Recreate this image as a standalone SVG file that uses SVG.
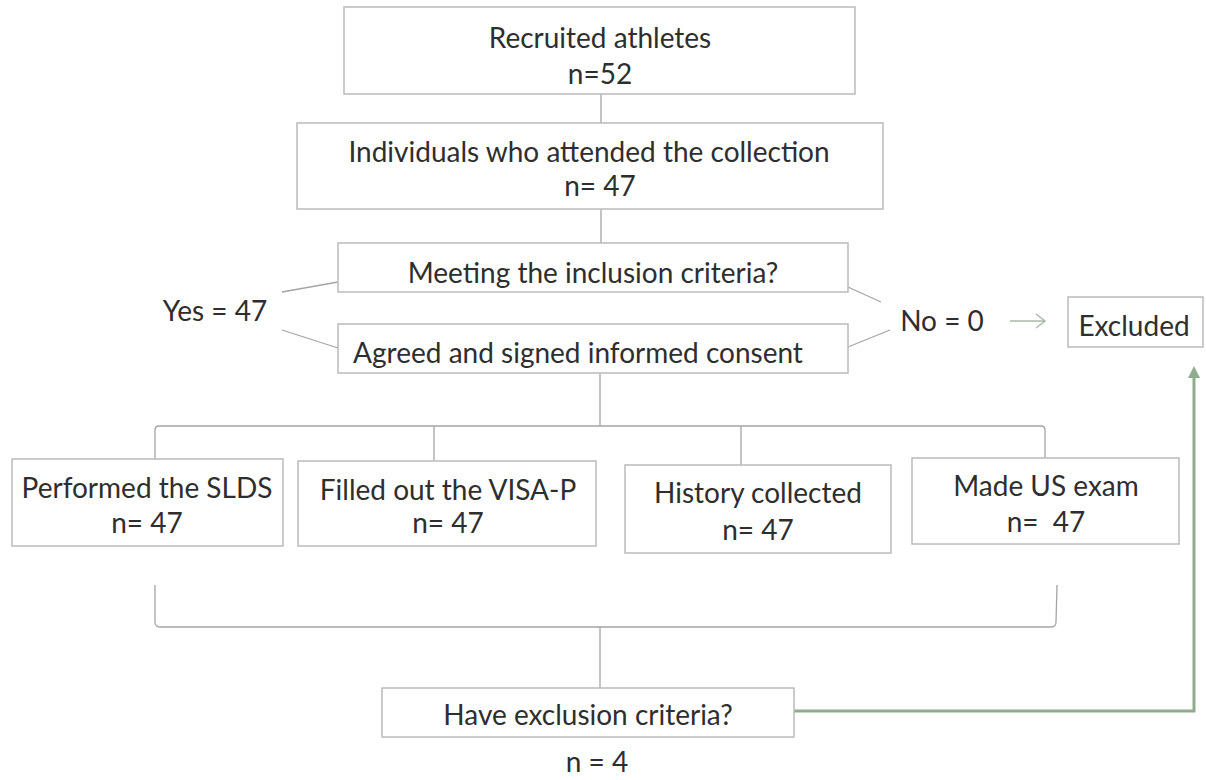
<svg xmlns="http://www.w3.org/2000/svg" width="1206" height="780" viewBox="0 0 1206 780">
<defs>
<style>
.box{fill:#ffffff;stroke:#b9bcb9;stroke-width:1.5}
.t{font-family:Lato,"Liberation Sans",sans-serif;font-size:28px;fill:#2e2e2e;text-anchor:middle}
.c{fill:none;stroke:#a3a6a3;stroke-width:1.3}
.g{fill:none;stroke:#8fac8f;stroke-width:3}
.ga{fill:none;stroke:#a9b9a9;stroke-width:1.5}
</style>
<marker id="ah" markerWidth="12" markerHeight="12" refX="6" refY="6" orient="auto" markerUnits="userSpaceOnUse">
<path d="M0,0 L12,6 L0,12 z" fill="#8fac8f"/>
</marker>
</defs>
<rect width="1206" height="780" fill="#ffffff"/>
<g id="connectors">
<line class="c" x1="601" y1="94" x2="601" y2="123"/>
<line class="c" x1="601" y1="209" x2="601" y2="243"/>
<line class="c" x1="282" y1="292" x2="338" y2="282"/>
<line class="c" x1="282" y1="330" x2="338" y2="348"/>
<line class="c" x1="848" y1="287" x2="881" y2="302"/>
<line class="c" x1="848" y1="347" x2="890" y2="330"/>
<path class="ga" d="M1010,321 L1045,321 M1036,314 L1045,321 L1036,328"/>
<line class="c" x1="600" y1="373" x2="600" y2="426"/>
<path class="c" d="M155,459 L155,430 Q155,426 159,426 L1041,426 Q1045,426 1045,430 L1045,458"/>
<line class="c" x1="434" y1="426" x2="434" y2="461"/>
<line class="c" x1="741" y1="426" x2="741" y2="465"/>
<path class="c" d="M155,585 L155,622 Q155,627 160,627 L1051,627 Q1056,627 1056,622 L1057,585"/>
<line class="c" x1="600" y1="627" x2="600" y2="688"/>
<path class="g" d="M794,711 L1194,711 L1194,372" marker-end="url(#ah)"/>
</g>
<g id="n-recruited">
<rect class="box" x="344" y="7" width="511" height="87"/>
<text class="t" x="600" y="48">Recruited athletes</text>
<text class="t" x="600" y="84">n=52</text>
</g>
<g id="n-attended">
<rect class="box" x="297" y="123" width="586" height="86"/>
<text class="t" x="589" y="162">Individuals who attended the collection</text>
<text class="t" x="600" y="196">n= 47</text>
</g>
<g id="n-inclusion">
<rect class="box" x="338" y="243" width="510" height="49"/>
<text class="t" x="593" y="283">Meeting the inclusion criteria?</text>
</g>
<g id="n-consent">
<rect class="box" x="338" y="324" width="510" height="49"/>
<text class="t" x="578" y="363">Agreed and signed informed consent</text>
</g>
<g id="n-yes">
<text class="t" x="215" y="321">Yes = 47</text>
</g>
<g id="n-no">
<text class="t" x="942" y="331">No = 0</text>
</g>
<g id="n-excluded">
<rect class="box" x="1068" y="297" width="135" height="50"/>
<text class="t" x="1134" y="336">Excluded</text>
</g>
<g id="n-slds">
<rect class="box" x="12" y="459" width="271" height="87"/>
<text class="t" x="147" y="498">Performed the SLDS</text>
<text class="t" x="147" y="533">n= 47</text>
</g>
<g id="n-visa">
<rect class="box" x="298" y="461" width="298" height="85"/>
<text class="t" x="448" y="500">Filled out the VISA-P</text>
<text class="t" x="448" y="533">n= 47</text>
</g>
<g id="n-history">
<rect class="box" x="625" y="465" width="266" height="88"/>
<text class="t" x="758" y="503">History collected</text>
<text class="t" x="758" y="540">n= 47</text>
</g>
<g id="n-us">
<rect class="box" x="912" y="458" width="267" height="86"/>
<text class="t" x="1046" y="496">Made US exam</text>
<text class="t" x="1046" y="532" xml:space="preserve">n=  47</text>
</g>
<g id="n-exclusion">
<rect class="box" x="382" y="688" width="412" height="49"/>
<text class="t" x="588" y="725">Have exclusion criteria?</text>
</g>
<g id="n-four">
<text class="t" x="597" y="772">n = 4</text>
</g>
</svg>
